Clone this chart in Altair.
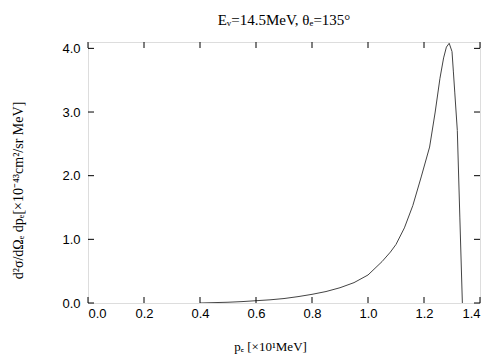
import altair as alt
import pandas as pd

# Curve (p_e in units of 10 MeV, cross section in 1e-43 cm^2/sr MeV)
p_e = [0.40, 0.45, 0.50, 0.55, 0.60, 0.65, 0.70, 0.75, 0.80, 0.85, 0.90, 0.95,
       1.00, 1.05, 1.08, 1.10, 1.13, 1.16, 1.19, 1.22, 1.24, 1.257, 1.27, 1.28,
       1.29, 1.30, 1.305, 1.31, 1.319, 1.328, 1.337]
xsec = [0.0, 0.006, 0.012, 0.022, 0.036, 0.05, 0.07, 0.10, 0.136, 0.18, 0.24, 0.32,
        0.44, 0.65, 0.80, 0.92, 1.18, 1.53, 1.98, 2.45, 3.0, 3.53, 3.85, 4.02,
        4.08, 3.95, 3.63, 3.30, 2.71, 1.35, 0.0]

x_ticks = [0.0, 0.2, 0.4, 0.6, 0.8, 1.0, 1.2, 1.4]
y_ticks = [0.0, 1.0, 2.0, 3.0, 4.0]

title_text = "E\u1d65=14.5MeV,  \u03b8\u2091=135\u00b0"
x_title = "p\u2091 [\u00d710\u00b9MeV]"
y_title = "d\u00b2\u03c3/d\u03a9\u2091 dp\u2091[\u00d710\u207b\u2074\u00b3cm\u00b2/sr MeV]"

W, H = 392, 261
TL = 6  # tick length (inward)

df = pd.DataFrame({"p": p_e, "s": xsec})
xt = pd.DataFrame({"v": x_ticks})
yt = pd.DataFrame({"v": y_ticks})

xscale = alt.Scale(domain=[0, 1.4], nice=False, zero=False)
yscale = alt.Scale(domain=[0, 4.1], nice=False)

line = alt.Chart(df).mark_line(color="#444444", strokeWidth=1, clip=True).encode(
    x=alt.X("p:Q", scale=xscale,
            axis=alt.Axis(values=x_ticks, format=".1f", tickSize=0, domain=False, grid=False,
                          labelFont="Liberation Sans", labelFontSize=13, labelColor="black",
                          labelPadding=4, title=x_title, titleFont="Liberation Serif",
                          titleFontWeight="normal", titleFontSize=13, titleColor="black",
                          titlePadding=20, titleX=182)),
    y=alt.Y("s:Q", scale=yscale,
            axis=alt.Axis(values=y_ticks, format=".1f", tickSize=0, domain=False, grid=False,
                          labelFont="Liberation Sans", labelFontSize=13, labelColor="black",
                          labelPadding=8, title=y_title, titleFont="Liberation Serif",
                          titleFontWeight="normal", titleFontSize=14, titleColor="black",
                          titlePadding=36, titleY=148)),
)

tick_style = dict(color="black", strokeWidth=1)
xb = alt.Chart(xt).mark_rule(**tick_style).encode(
    x=alt.X("v:Q", scale=xscale), y=alt.value(H), y2=alt.value(H - TL))
xtop = alt.Chart(xt).mark_rule(**tick_style).encode(
    x=alt.X("v:Q", scale=xscale), y=alt.value(0), y2=alt.value(TL))
yl = alt.Chart(yt).mark_rule(**tick_style).encode(
    y=alt.Y("v:Q", scale=yscale), x=alt.value(0), x2=alt.value(TL))
yr = alt.Chart(yt).mark_rule(**tick_style).encode(
    y=alt.Y("v:Q", scale=yscale), x=alt.value(W), x2=alt.value(W - TL))

chart = alt.layer(line, xb, xtop, yl, yr).properties(
    width=W, height=H,
    title=alt.TitleParams(title_text, font="Liberation Serif", fontSize=15,
                          fontWeight="normal", color="black", anchor="middle", offset=14),
    autosize=alt.AutoSizeParams(type="none"),
    padding={"left": 80, "top": 34, "right": 16, "bottom": 56},
).configure_view(stroke="black", strokeWidth=2).configure(background="white")

chart.save("out.html", embed_options={"renderer": "svg", "actions": False})
